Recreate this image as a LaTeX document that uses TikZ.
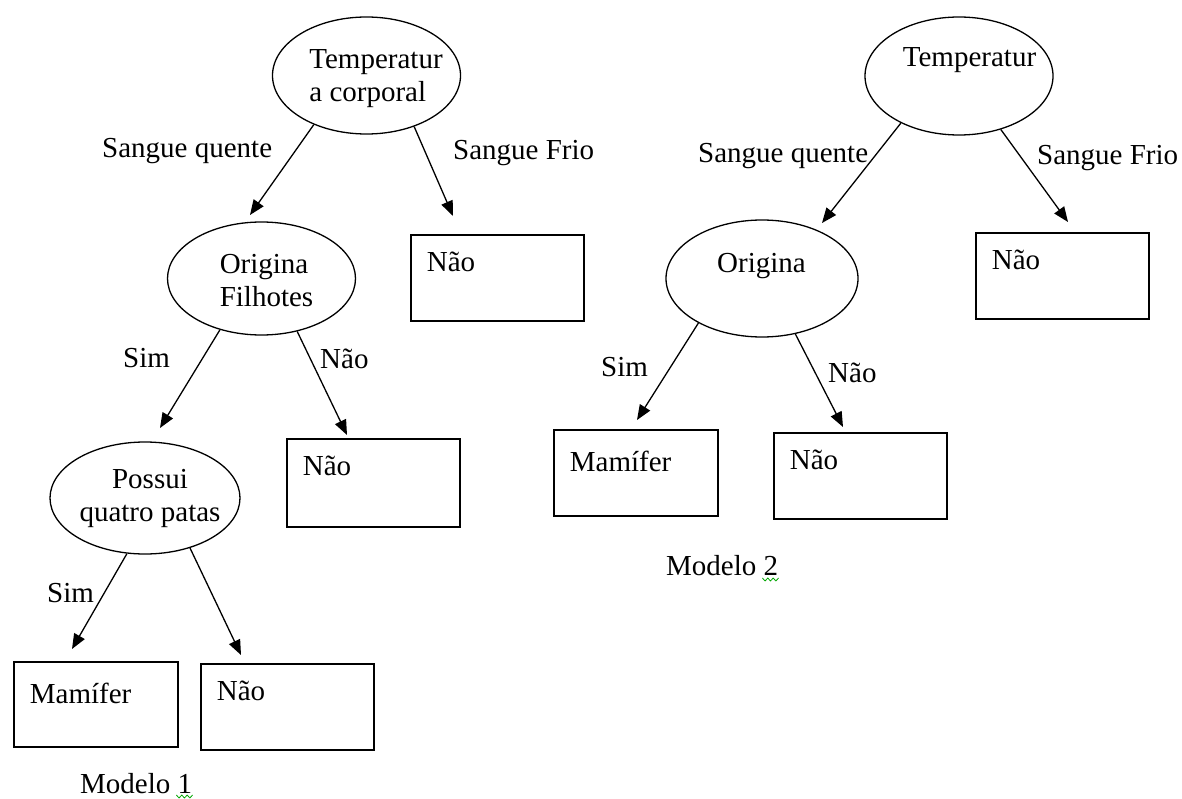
\documentclass[tikz,border=0pt]{standalone}
\usepackage{fontspec}
\setmainfont{Liberation Serif}
\usetikzlibrary{shapes.geometric,arrows.meta,calc}
\begin{document}
\begin{tikzpicture}[x=1pt,y=-1pt,
  every node/.style={font=\fontsize{29}{33}\selectfont},
  dec/.style={draw, ellipse, line width=1.3pt, inner sep=0pt},
  inlbl/.style={inner sep=0pt, align=left},
  leaf/.style={draw, rectangle, line width=1.8pt, anchor=north west,
    inner xsep=16pt, inner ysep=0pt, align=left,
    text width=141pt, text height=37pt, text depth=49pt},
  leafn/.style={leaf, text width=132pt, text height=42pt, text depth=44pt},
  arr/.style={line width=1.3pt, -{Triangle[length=15pt,width=12pt]}},
  edgelbl/.style={anchor=base west, inner sep=0pt},
  squig/.style={draw=green!65!black, line width=0.8pt, line join=round}]

\useasboundingbox (0,0) rectangle (1182,799);

% ---------- Modelo 1 ----------
\node[dec, minimum width=188pt, minimum height=117pt,
  label={[inlbl, xshift=9.5pt, yshift=-3pt]center:{Temperatur\\a corporal}}]
  (E1) at (366.5,75.5) {};
\node[dec, minimum width=188pt, minimum height=113pt,
  label={[inlbl, xshift=5pt, yshift=-2pt]center:{Origina\\Filhotes}}]
  (E2) at (261.5,278.5) {};
\node[dec, minimum width=190pt, minimum height=112pt,
  label={[inlbl, align=center, xshift=5pt]center:{Possui\\quatro patas}}]
  (E3) at (145,498) {};

\node[leaf] (L1) at (410,234) {Não};
\node[leaf, text depth=51pt] (L2) at (286,438) {Não};
\node[leafn, text depth=43pt] (L3) at (13,661) {Mamífer};
\node[leaf] (L4) at (200,663) {Não};

\coordinate (ta1) at (250,215);
\coordinate (ta2) at (453,216);
\coordinate (tb1) at (160,428);
\coordinate (tb2) at (347,435);
\coordinate (tc1) at (72,649);
\coordinate (tc2) at (241,655);

\draw[arr] (E1.-137) -- (ta1);
\draw[arr] (E1.-47) -- (ta2);
\draw[arr] (E2.-129.5) -- (tb1);
\draw[arr] (E2.-56.7) -- (tb2);
\draw[arr] (E3.-108) -- (tc1);
\draw[arr] (E3.-48.7) -- (tc2);

\node[edgelbl] (la1) at (102,158) {Sangue quente};
\node[edgelbl] (la2) at (453,160) {Sangue Frio};
\node[edgelbl] (lb1) at (123,367) {Sim};
\node[edgelbl] (lb2) at (320,368) {Não};
\node[edgelbl] (lc1) at (47,602) {Sim};

\node[edgelbl] (M1) at (80,793) {Modelo 1};
\draw[squig] ($(M1.base east)+(-16,2)$) -- ++(2.7,3) -- ++(2.7,-3) -- ++(2.7,3)
  -- ++(2.7,-3) -- ++(2.7,3) -- ++(2.7,-3);

% ---------- Modelo 2 ----------
\node[dec, minimum width=188pt, minimum height=118pt,
  label={[inlbl, xshift=10.5pt, yshift=15.5pt]center:{Temperatur}}]
  (E4) at (959,76) {};
\node[dec, minimum width=192pt, minimum height=117pt,
  label={[inlbl, xshift=-0.5pt, yshift=12pt]center:{Origina}}]
  (E5) at (762,278.5) {};

\node[leaf] (R1) at (975,232) {Não};
\node[leafn] (R2) at (553,429) {Mamífer};
\node[leaf] (R3) at (773,432) {Não};

\coordinate (td1) at (822,223);
\coordinate (td2) at (1068,222);
\coordinate (te1) at (637,420);
\coordinate (te2) at (843,427);

\draw[arr] (E4.-141.8) -- (td1);
\draw[arr] (E4.-52.8) -- (td2);
\draw[arr] (E5.-145.3) -- (te1);
\draw[arr] (E5.-59.7) -- (te2);

\node[edgelbl] (ld1) at (698,163) {Sangue quente};
\node[edgelbl] (ld2) at (1037,165) {Sangue Frio};
\node[edgelbl] (le1) at (601,376) {Sim};
\node[edgelbl] (le2) at (828,382) {Não};

\node[edgelbl] (M2) at (666,575) {Modelo 2};
\draw[squig] ($(M2.base east)+(-16,3)$) -- ++(2.7,3) -- ++(2.7,-3) -- ++(2.7,3)
  -- ++(2.7,-3) -- ++(2.7,3) -- ++(2.7,-3);

\end{tikzpicture}
\end{document}
